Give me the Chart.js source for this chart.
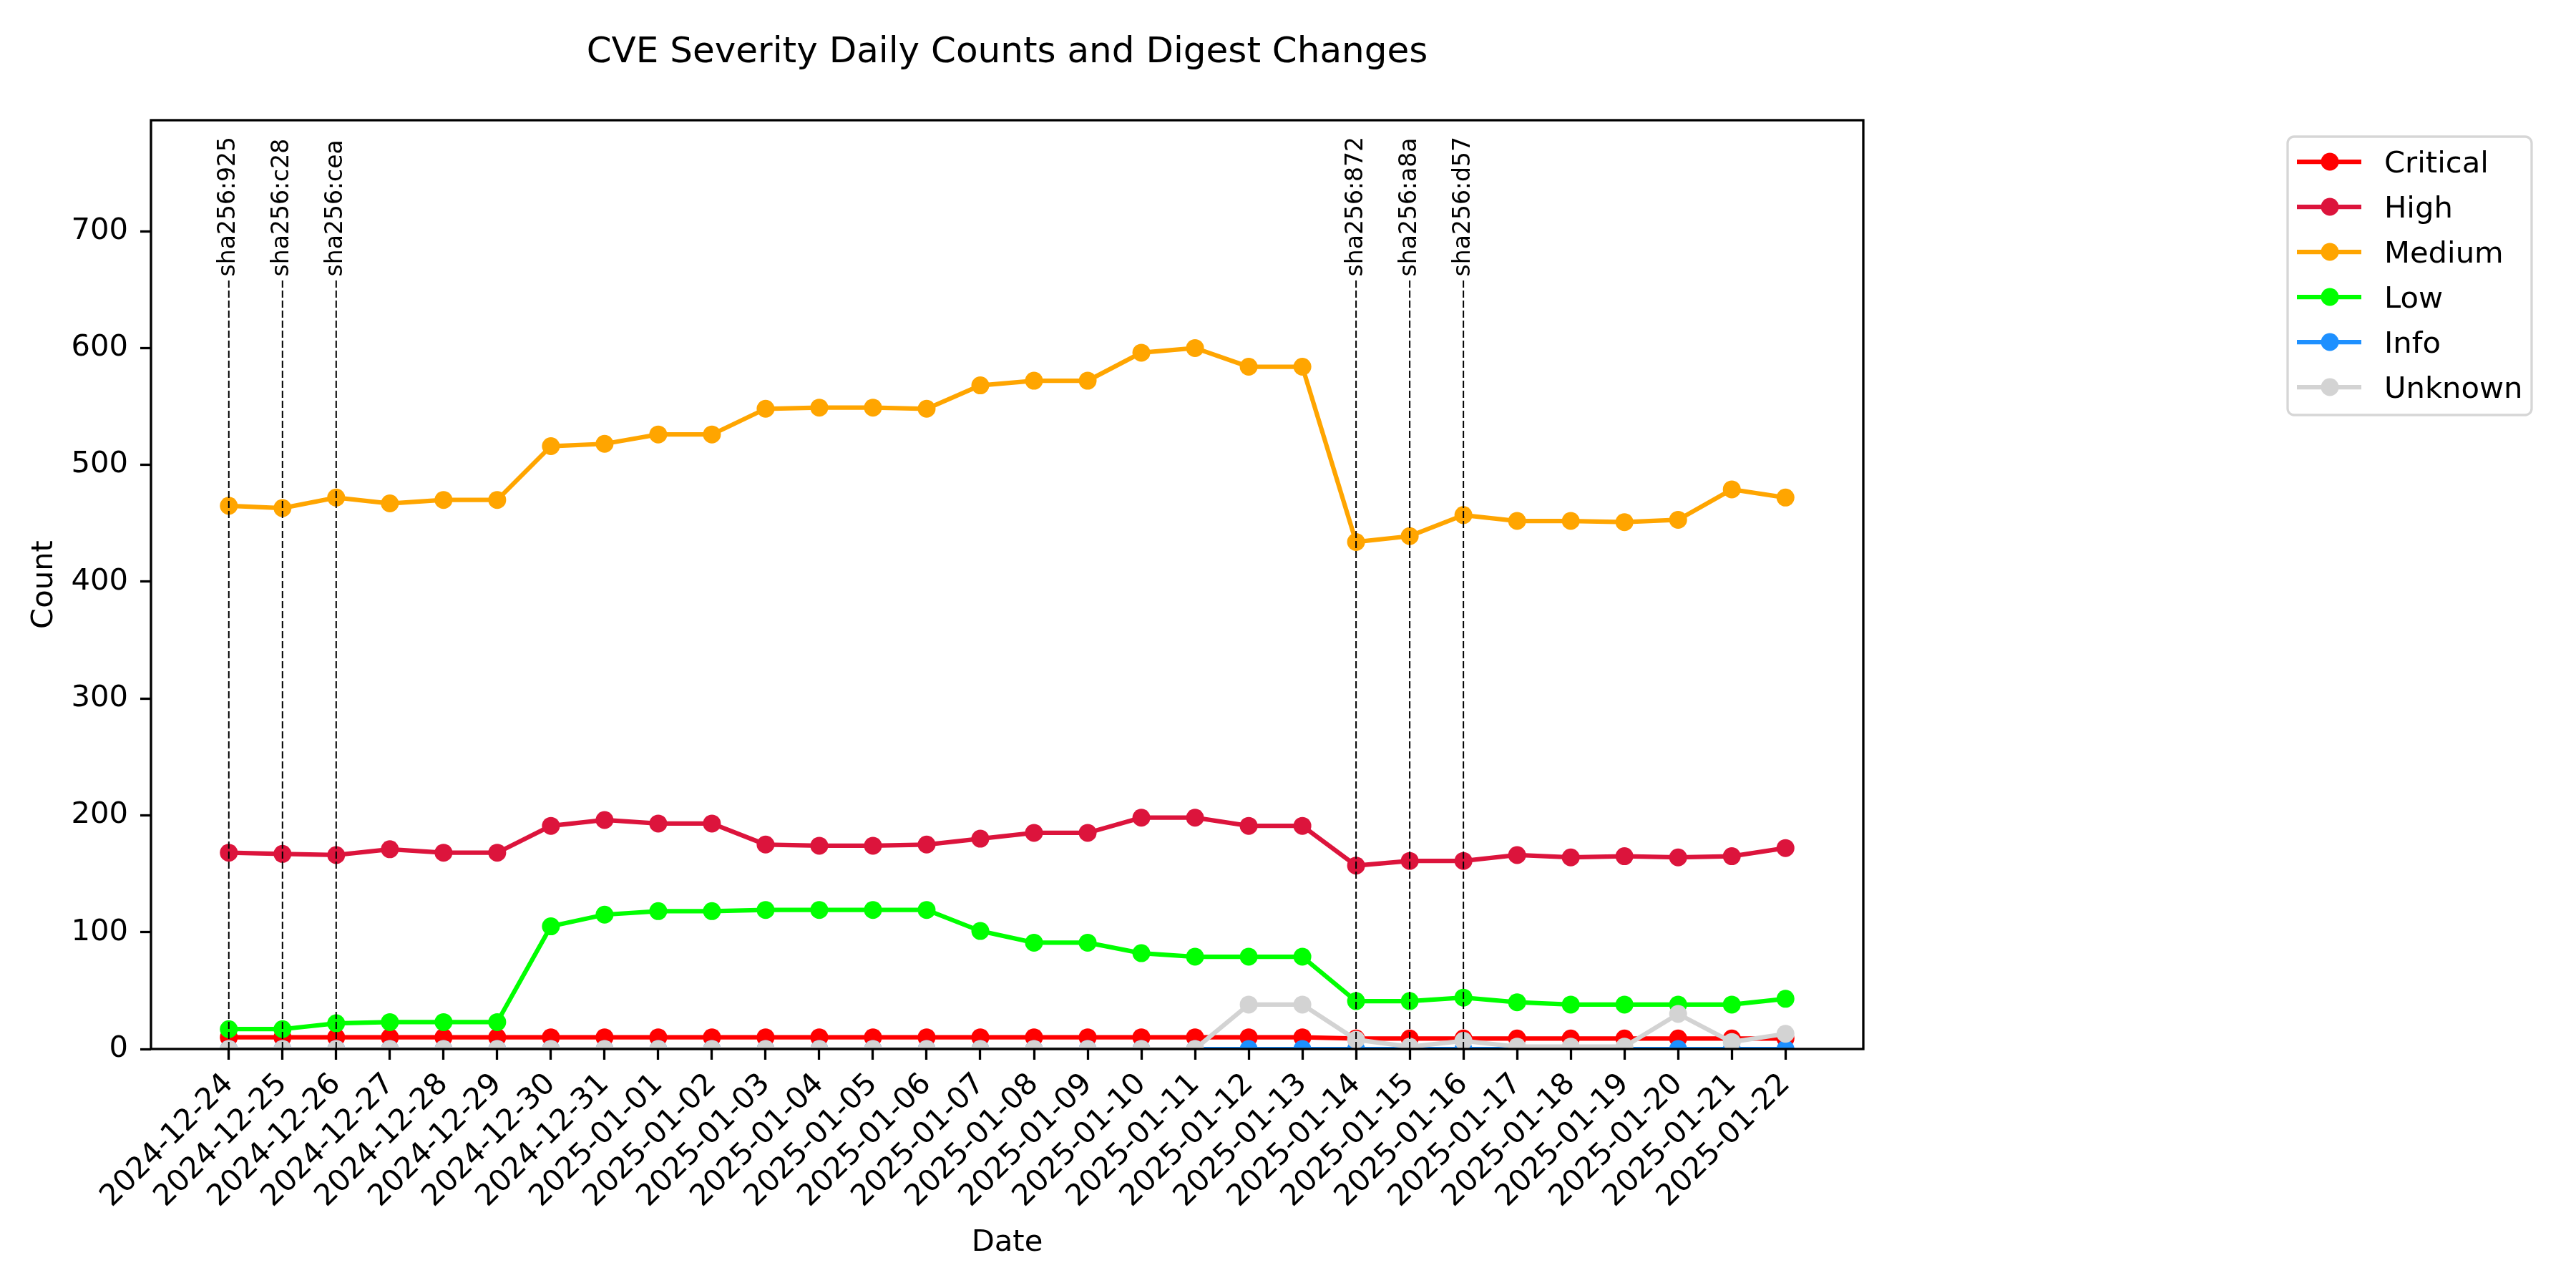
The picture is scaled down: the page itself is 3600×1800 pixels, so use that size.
<!DOCTYPE html>
<html>
<head>
<meta charset="utf-8">
<title>CVE Severity Daily Counts and Digest Changes</title>
<script src="https://cdn.jsdelivr.net/npm/chart.js@4.4.1/dist/chart.umd.min.js"></script>
<style>
  html, body { margin: 0; padding: 0; background: #fff; }
  canvas { display: block; }
</style>
</head>
<body>
<canvas id="cveChart" width="3600" height="1800"></canvas>
<script>
// =====================================
// DATA
// =====================================
const dates = [
    "2024-12-24","2024-12-25","2024-12-26","2024-12-27","2024-12-28","2024-12-29","2024-12-30","2024-12-31",
    "2025-01-01","2025-01-02","2025-01-03","2025-01-04","2025-01-05","2025-01-06","2025-01-07","2025-01-08",
    "2025-01-09","2025-01-10","2025-01-11","2025-01-12","2025-01-13","2025-01-14","2025-01-15","2025-01-16",
    "2025-01-17","2025-01-18","2025-01-19","2025-01-20","2025-01-21","2025-01-22"
];

const critical = [10,10,10,10,10,10,10,10,10,10,10,10,10,10,10,10,10,10,10,10,10,9,9,9,9,9,9,9,9,9];
const high     = [168,167,166,171,168,168,191,196,193,193,175,174,174,175,180,185,185,198,198,191,191,157,161,161,166,164,165,164,165,172];
const medium   = [465,463,472,467,470,470,516,518,526,526,548,549,549,548,568,572,572,596,600,584,584,434,439,457,452,452,451,453,479,472];
const low      = [17,17,22,23,23,23,105,115,118,118,119,119,119,119,101,91,91,82,79,79,79,41,41,44,40,38,38,38,38,43];
const info     = [0,0,0,0,0,0,0,0,0,0,0,0,0,0,0,0,0,0,0,0,0,0,0,0,0,0,0,0,0,0];
const unknown  = [0,0,0,0,0,0,0,0,0,0,0,0,0,0,0,0,0,0,0,38,38,8,2,7,2,2,2,30,6,13];

const seriesNames  = ["Critical","High","Medium","Low","Info","Unknown"];
const seriesValues = [critical, high, medium, low, info, unknown];
const seriesColors = ["#ff0000","#dc143c","#ffa500","#00ff00","#1e90ff","#d3d3d3"];

// digest changes (dashed markers)
const digestDates  = ["2024-12-24","2024-12-25","2024-12-26","2025-01-14","2025-01-15","2025-01-16"];
const digestLabels = ["sha256:925","sha256:c28","sha256:cea","sha256:872","sha256:a8a","sha256:d57"];
const digestTop = 660;

const yTicks = [0,100,200,300,400,500,600,700];
const yMax = 795;

const FONT = "'DejaVu Sans', 'Liberation Sans', sans-serif";
Chart.defaults.font.family = FONT;

// =====================================
// TITLE, DIGEST LINES, SPINES, LEGEND
// =====================================
const extras = {
    id: "extras",
    afterDatasetsDraw(chart) {
        const { ctx, chartArea: a, scales: { x, y } } = chart;
        ctx.save();

        // dashed digest lines
        ctx.strokeStyle = "#000";
        ctx.lineWidth = 2;
        ctx.setLineDash([10, 4]);
        digestDates.forEach(d => {
            const px = x.getPixelForValue(dates.indexOf(d));
            ctx.beginPath();
            ctx.moveTo(px, y.getPixelForValue(0));
            ctx.lineTo(px, y.getPixelForValue(digestTop));
            ctx.stroke();
        });
        ctx.setLineDash([]);

        // digest labels
        ctx.fillStyle = "#000";
        ctx.font = "33px " + FONT;
        ctx.textAlign = "left";
        ctx.textBaseline = "middle";
        digestDates.forEach((d, k) => {
            const px = x.getPixelForValue(dates.indexOf(d));
            const py = y.getPixelForValue(digestTop) - 2;
            ctx.save();
            ctx.translate(px, py);
            ctx.rotate(-Math.PI / 2);
            ctx.fillText(digestLabels[k], 0, 0);
            ctx.restore();
        });

        // spines
        ctx.lineWidth = 3.3;
        ctx.strokeRect(a.left, a.top, a.right - a.left, a.bottom - a.top);
        ctx.restore();
    },
    afterDraw(chart) {
        const { ctx, chartArea: a } = chart;
        ctx.save();

        // title
        ctx.fillStyle = "#000";
        ctx.font = "50px " + FONT;
        ctx.textAlign = "center";
        ctx.textBaseline = "alphabetic";
        ctx.fillText("CVE Severity Daily Counts and Digest Changes", (a.left + a.right) / 2, 87);

        // legend
        const bx = 3197, by = 191, bw = 341, bh = 389;
        ctx.fillStyle = "rgba(255,255,255,0.8)";
        ctx.strokeStyle = "#d6d6d6";
        ctx.lineWidth = 3.3;
        ctx.beginPath();
        ctx.roundRect(bx, by, bw, bh, 9);
        ctx.fill();
        ctx.stroke();

        ctx.font = "41.7px " + FONT;
        ctx.textAlign = "left";
        seriesNames.forEach((name, i) => {
            const ry = 226 + i * 63;
            ctx.strokeStyle = seriesColors[i];
            ctx.lineWidth = 6.25;
            ctx.beginPath();
            ctx.moveTo(3210, ry);
            ctx.lineTo(3300, ry);
            ctx.stroke();
            ctx.fillStyle = seriesColors[i];
            ctx.beginPath();
            ctx.arc(3256, ry, 12.5, 0, Math.PI * 2);
            ctx.fill();
            ctx.fillStyle = "#000";
            ctx.fillText(name, 3332, ry + 15);
        });
        ctx.restore();
    }
};

// =====================================
// CHART
// =====================================
const tickFont = { size: 41.7 };
const axisGrid = {
    drawOnChartArea: false,
    drawTicks: true,
    tickLength: 15,
    tickWidth: 3.3,
    tickColor: "#000"
};

new Chart(document.getElementById("cveChart"), {
    type: "line",
    data: {
        datasets: seriesNames.map((name, i) => ({
            label: name,
            data: seriesValues[i].map((v, k) => ({ x: k, y: v })),
            borderColor: seriesColors[i],
            backgroundColor: seriesColors[i],
            pointBackgroundColor: seriesColors[i],
            pointBorderWidth: 0,
            pointRadius: 12.5,
            borderWidth: 6.25,
            tension: 0,
            clip: 0,
            order: seriesNames.length - i
        }))
    },
    options: {
        responsive: false,
        animation: false,
        devicePixelRatio: 1,
        layout: { padding: { left: 0, top: 168, right: 996, bottom: 0 } },
        plugins: {
            legend: { display: false },
            tooltip: { enabled: false },
            title: { display: false }
        },
        scales: {
            x: {
                type: "linear",
                min: -1.45,
                max: dates.length - 1 + 1.45,
                afterBuildTicks: s => { s.ticks = dates.map((d, i) => ({ value: i })); },
                afterFit: s => { s.height = 334; },
                ticks: {
                    callback: v => dates[v],
                    autoSkip: false,
                    minRotation: 45,
                    maxRotation: 45,
                    padding: 10,
                    color: "#000",
                    font: tickFont
                },
                grid: axisGrid,
                border: { display: false },
                title: { display: true, text: "Date", color: "#000", font: tickFont, padding: { top: 0, bottom: 38 } }
            },
            y: {
                type: "linear",
                min: 0,
                max: yMax,
                afterBuildTicks: s => { s.ticks = yTicks.map(v => ({ value: v })); },
                afterFit: s => { s.width = 211; },
                ticks: { padding: 17, color: "#000", font: tickFont },
                grid: axisGrid,
                border: { display: false },
                title: { display: true, text: "Count", color: "#000", font: tickFont, padding: { top: 37, bottom: 0 } }
            }
        }
    },
    plugins: [extras]
});
</script>
</body>
</html>
